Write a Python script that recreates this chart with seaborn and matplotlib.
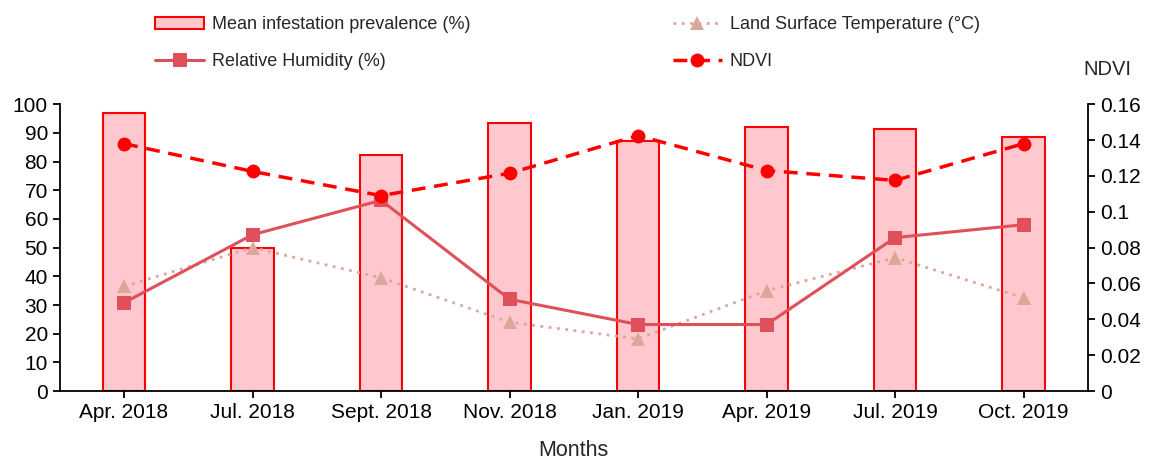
import numpy as np
import pandas as pd
import matplotlib
matplotlib.use("Agg")
import matplotlib.pyplot as plt
import seaborn as sns
from matplotlib.lines import Line2D
from matplotlib.patches import Patch

# values
months = ["Apr. 2018", "Jul. 2018", "Sept. 2018", "Nov. 2018",
          "Jan. 2019", "Apr. 2019", "Jul. 2019", "Oct. 2019"]
prevalence = [97, 50, 82.2, 93.5, 87, 92, 91.3, 88.5]
humidity = [30.8, 54.5, 66.5, 32, 23.2, 23.2, 53.5, 58]
lst = [36.5, 50, 39.5, 24, 18.2, 35, 46.5, 32.5]
ndvi = [0.138, 0.1225, 0.109, 0.1215, 0.1425, 0.123, 0.1175, 0.138]

bar_fill = "#FFC7CE"
bar_edge = "#FF0000"
rh_col = "#E0505A"
lst_col = "#D9A89A"
ndvi_col = "#FF0000"

sns.set_style("ticks")
plt.rcParams["font.family"] = ["Liberation Sans", "DejaVu Sans"]

df = pd.DataFrame({"month": months, "prev": prevalence, "rh": humidity,
                   "lst": lst, "ndvi": ndvi})
df["idx"] = np.arange(len(months))

fig = plt.figure(figsize=(11.5, 4.59), dpi=100)
ax = fig.add_axes([0.052, 0.148, 0.894, 0.625])

sns.barplot(data=df, x="month", y="prev", order=months, color=bar_fill,
            edgecolor=bar_edge, linewidth=1.5, width=0.33, saturation=1, ax=ax)
sns.lineplot(data=df, x="idx", y="lst", color=lst_col, linestyle=(0, (1, 2)),
             lw=2, marker="^", markersize=10, markeredgewidth=0, ax=ax)
sns.lineplot(data=df, x="idx", y="rh", color=rh_col, lw=2.2,
             marker="s", markersize=10, markeredgewidth=0, ax=ax)

ax2 = ax.twinx()
sns.lineplot(data=df, x="idx", y="ndvi", color=ndvi_col, linestyle=(0, (4, 2.5)),
             lw=2.5, marker="o", markersize=10, markeredgewidth=0, ax=ax2)

ax.set_xlim(-0.5, 7.5)
ax.set_ylim(0, 100)
ax.set_yticks(range(0, 101, 10))
ax2.set_ylim(0, 0.16)
ax2.set_yticks(np.arange(0, 0.161, 0.02))
ax2.set_yticklabels(["0", "0.02", "0.04", "0.06", "0.08", "0.1", "0.12", "0.14", "0.16"])
ax.set_xticks(range(len(months)))
ax.set_xticklabels(months)

for a in (ax, ax2):
    a.spines["top"].set_visible(False)
    a.tick_params(labelsize=15, length=5, width=1.3, colors="black")
    for s in a.spines.values():
        s.set_linewidth(1.3)
        s.set_color("black")
ax.spines["right"].set_visible(False)
ax2.spines["left"].set_visible(False)
ax2.spines["bottom"].set_visible(False)

ax.set_xlabel("Months", fontsize=15.5, labelpad=13)
ax.set_ylabel("")
ax2.set_ylabel("")
fig.text(0.963, 0.848, "NDVI", fontsize=14.5, ha="center", va="center")

handles = [
    Patch(facecolor=bar_fill, edgecolor=bar_edge, linewidth=1.5),
    Line2D([], [], color=rh_col, lw=2.2, marker="s", markersize=10, markeredgewidth=0),
    Line2D([], [], color=lst_col, lw=2, linestyle=(0, (1, 2)), marker="^",
           markersize=10, markeredgewidth=0),
    Line2D([], [], color=ndvi_col, lw=2.5, linestyle=(0, (4, 2.5)), marker="o",
           markersize=10, markeredgewidth=0),
]
labels = ["Mean infestation prevalence (%)", "Relative Humidity (%)",
          "Land Surface Temperature (°C)", "NDVI"]
fig.legend(handles, labels, ncol=2, frameon=False, fontsize=13,
           loc="upper left", bbox_to_anchor=(0.121, 1.0), handlelength=2.7,
           columnspacing=11.2, labelspacing=1.1, handletextpad=0.45)

fig.savefig("out.png", dpi=100)
